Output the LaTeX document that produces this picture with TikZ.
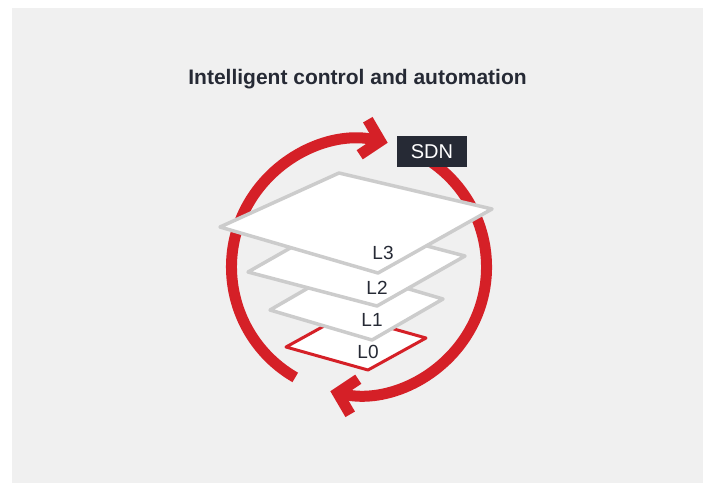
\documentclass[tikz,border=0pt]{standalone}
\usepackage{fontspec}
\setmainfont{Liberation Sans}
\usetikzlibrary{arrows.meta}

\definecolor{netred}{RGB}{213,32,39}
\definecolor{layergray}{RGB}{204,204,204}
\definecolor{panel}{RGB}{240,240,240}
\definecolor{ink}{RGB}{38,42,53}

\begin{document}
\begin{tikzpicture}[x=1pt,y=1pt,
  ring/.style={netred, line width=11pt},
  layer/.style={draw=layergray, fill=white, line width=3.5pt, line join=round},
  tag/.style={text=ink, inner sep=0pt, font=\fontsize{19}{19}\selectfont}]
\useasboundingbox (0,0) rectangle (706,-483);
% panel
  \fill[panel] (12,-8) rectangle (703,-483);

% title
  \node[text=ink, font=\bfseries\fontsize{21}{21}\selectfont] (title) at (357.5,-79.5) {Intelligent control and automation};

% ring
  \coordinate (hub) at (359,-267);
  \draw[ring, -{Straight Barb[length=17pt,width=36pt]}]
    ([shift={(240:127.5)}]hub) arc (240:77:127.5);
  \draw[ring, -{Straight Barb[length=17pt,width=36pt]}]
    ([shift={(62:127.5)}]hub) arc (62:-103:127.5);

% sdn box
  \node[fill=ink, text=white, minimum width=70pt, minimum height=31pt, inner sep=0pt,
    font=\fontsize{20}{20}\selectfont] (sdn) at (432,-151.5) {SDN};

% layers
  \draw[layer, draw=netred, line width=3pt]
    (286,-347) -- (344,-315) -- (426,-338) -- (368,-370) -- cycle;
  \draw[layer] (270,-310) -- (341,-269) -- (443,-299) -- (372,-340) -- cycle;
  \draw[layer] (248,-272) -- (336,-222) -- (465,-256) -- (377,-306) -- cycle;
  \draw[layer] (220,-227) -- (339,-173) -- (492,-209) -- (378,-273) -- cycle;

% labels
  \node[tag] (l0) at (368,-352) {L0};
  \node[tag] (l1) at (372,-320) {L1};
  \node[tag] (l2) at (377,-288) {L2};
  \node[tag] (l3) at (383,-253) {L3};

\end{tikzpicture}
\end{document}
